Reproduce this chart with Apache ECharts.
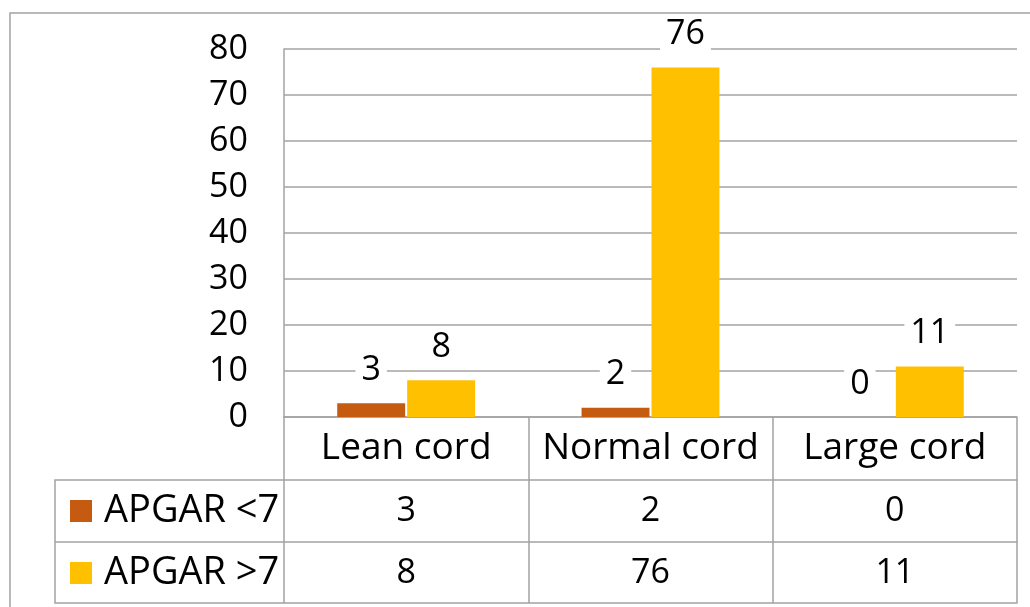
<!DOCTYPE html>
<html>
<head>
<meta charset="utf-8">
<script src="https://cdn.jsdelivr.net/npm/echarts@6/dist/echarts.min.js"></script>
<style>
html,body{margin:0;padding:0;background:#fff;}
#chart{width:1030px;height:607px;}
</style>
</head>
<body>
<div id="chart"></div>
<script>
const categories = ['Lean cord', 'Normal cord', 'Large cord'];
const seriesNames = ['APGAR <7', 'APGAR >7'];
const apgarLow = [3, 2, 0];
const apgarHigh = [8, 76, 11];
const yTicks = { min: 0, max: 80, interval: 10 };

const FONT = 'Open Sans';
const FS = 34;
const FS_TEXT = 37;
const FS_LEGEND = 38;
const GRAY = '#a3a3a3';
const TXT = '#000000';

const chart = echarts.init(document.getElementById('chart'), null, { renderer: 'canvas' });

const labelStyle = {
  show: true,
  position: 'top',
  distance: 15,
  fontFamily: FONT,
  fontSize: FS,
  color: TXT,
  lineHeight: 36,
  backgroundColor: '#ffffff',
  padding: [0, 6]
};

function tableAxis(offset, values, showLabel) {
  return {
    type: 'category',
    gridIndex: 0,
    position: 'bottom',
    offset: offset,
    data: categories,
    axisLine: { show: true, lineStyle: { color: GRAY, width: 1.5 } },
    axisTick: { show: false },
    axisLabel: {
      show: showLabel,
      interval: 0,
      margin: 31,
      verticalAlign: 'middle',
      fontFamily: FONT,
      fontSize: FS,
      color: TXT,
      formatter: function (v, i) { return values ? String(values[i]) : v; }
    },
    splitLine: { show: false }
  };
}

const option = {
  animation: false,
  backgroundColor: '#ffffff',
  textStyle: { fontFamily: FONT },
  grid: { left: 284, right: 13, top: 49, bottom: 190, containLabel: false, outerBoundsMode: 'none' },
  legend: {
    orient: 'vertical',
    left: 70,
    top: 491,
    padding: 0,
    itemWidth: 22,
    itemHeight: 22,
    itemGap: 22,
    icon: 'rect',
    data: seriesNames,
    textStyle: { fontFamily: FONT, fontSize: FS_LEGEND, color: TXT, lineHeight: 40, padding: [0, 0, 0, 7] }
  },
  xAxis: [
    {
      type: 'category',
      gridIndex: 0,
      position: 'bottom',
      data: categories,
      axisLine: { show: true, lineStyle: { color: GRAY, width: 1.5 } },
      axisTick: { show: true, length: 186, alignWithLabel: false, interval: 0, lineStyle: { color: GRAY, width: 1.5 } },
      axisLabel: { interval: 0, margin: 31, verticalAlign: 'middle', fontFamily: FONT, fontSize: FS_TEXT, color: TXT },
      splitLine: { show: false }
    },
    tableAxis(63, apgarLow, true),
    tableAxis(125, apgarHigh, true),
    tableAxis(186, null, false)
  ],
  yAxis: {
    type: 'value',
    min: yTicks.min,
    max: yTicks.max,
    interval: yTicks.interval,
    axisLine: { show: true, lineStyle: { color: GRAY, width: 1.5 } },
    axisTick: { show: false },
    axisLabel: { margin: 36, fontFamily: FONT, fontSize: FS, color: TXT },
    splitLine: { show: true, lineStyle: { color: GRAY, width: 1.5 } }
  },
  series: [
    {
      name: seriesNames[0],
      type: 'bar',
      xAxisIndex: 0,
      data: apgarLow,
      barWidth: '27.8%',
      barGap: '3%',
      itemStyle: { color: '#C55A11' },
      label: labelStyle
    },
    {
      name: seriesNames[1],
      type: 'bar',
      xAxisIndex: 0,
      data: apgarHigh,
      barWidth: '27.8%',
      barGap: '3%',
      itemStyle: { color: '#FFC000' },
      label: labelStyle
    }
  ],
  graphic: [
    {
      type: 'rect',
      silent: true,
      z: -10,
      shape: { x: 10, y: 13, width: 1040, height: 620 },
      style: { fill: null, stroke: GRAY, lineWidth: 1.5 }
    },
    {
      type: 'polyline',
      silent: true,
      shape: { points: [[284, 480], [55, 480], [55, 603], [284, 603]] },
      style: { fill: null, stroke: GRAY, lineWidth: 1.5 }
    },
    {
      type: 'line',
      silent: true,
      shape: { x1: 55, y1: 542, x2: 284, y2: 542 },
      style: { stroke: GRAY, lineWidth: 1.5 }
    }
  ]
};

chart.setOption(option);
</script>
</body>
</html>
